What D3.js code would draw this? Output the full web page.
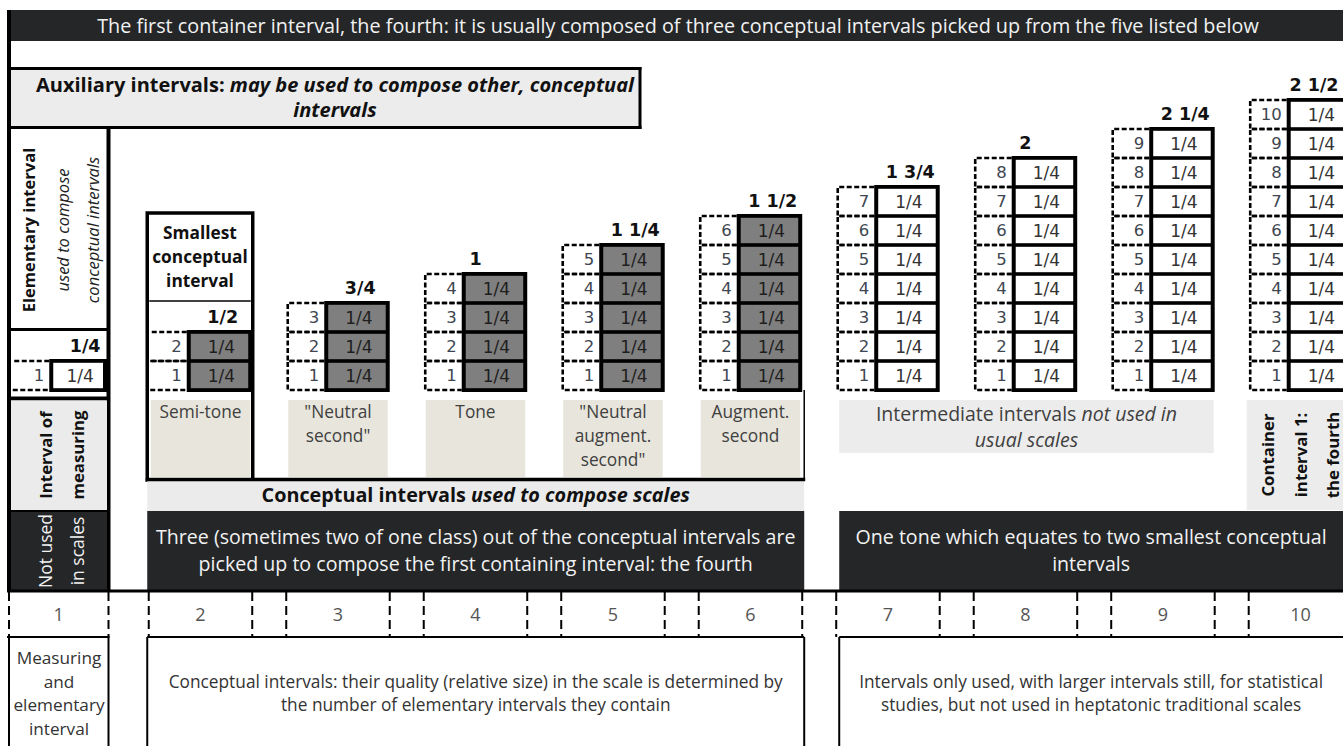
<!DOCTYPE html>
<html><head><meta charset="utf-8">
<script src="https://cdn.jsdelivr.net/npm/d3@7"></script>
<style>
html,body{margin:0;padding:0;background:#fff;}
svg{display:block;}
</style></head>
<body>
<svg id="chart" width="1343" height="746"></svg>
<script>
// ---------------- data ----------------
const columns = [1,2,3,4,5,6,7,8,9,10];
const cellCounts = [1,2,3,4,5,6,7,8,9,10];
const totalLabels = ["1/4","1/2","3/4","1","1 1/4","1 1/2","1 3/4","2","2 1/4","2 1/2"];
const unitLabel = "1/4";
const groups = ["elementary","conceptual","conceptual","conceptual","conceptual","conceptual","intermediate","intermediate","intermediate","container"];
const intervalNames = [[], ["Semi-tone"], ["\"Neutral","second\""], ["Tone"], ["\"Neutral","augment.","second\""], ["Augment.","second"], [], [], [], []];
const titleText = "The first container interval, the fourth: it is usually composed of three conceptual intervals picked up from the five listed below";
const auxLines = [[{t:"Auxiliary intervals: ",b:1},{t:"may be used to compose other, conceptual",b:1,i:1}],[{t:"intervals",b:1,i:1}]];
const conceptualBarText = [{t:"Conceptual intervals ",b:1},{t:"used to compose scales",b:1,i:1}];
const darkText1 = ["Three (sometimes two of one class) out of the conceptual intervals are","picked up to compose the first containing interval: the fourth"];
const darkText2 = ["One tone which equates to two smallest conceptual","intervals"];
const intermediateText = [[{t:"Intermediate intervals "},{t:"not used in",i:1}],[{t:"usual scales",i:1}]];
const containerText = ["Container","interval 1:","the fourth"];
const smallestText = ["Smallest","conceptual","interval"];
const bottomText1 = ["Measuring","and","elementary","interval"];
const bottomText2 = ["Conceptual intervals: their quality (relative size) in the scale is determined by","the number of elementary intervals they contain"];
const bottomText3 = ["Intervals only used, with larger intervals still, for statistical","studies, but not used in heptatonic traditional scales"];

// ---------------- style ----------------
const DARK = "#242628", LIGHT = "#ececec", BEIGE = "#e8e6dc", CELLGRAY = "#7f7f7f";
const TXT = "#404040", NUMC = "#3e4651";
const SANS = "'Open Sans', 'Noto Sans', sans-serif";
const NUMF = "'DejaVu Sans', Verdana, sans-serif";

const svg = d3.select("#chart");
const W = 1343, H = 746;

// scales
const x = d3.scaleBand().domain(columns).range([11.25, 1352.2]).paddingInner(0.2473).paddingOuter(0);
const bw = x.bandwidth();
const y = d3.scaleLinear().domain([0, 10]).range([390, 100]);
const LEFT_R = 108.5;
const bandL = c => x(c);
const bandR = c => c === 1 ? LEFT_R - 1.5 : x(c) + bw;

function line(x1,y1,x2,y2,w,dash,col){
  const l = svg.append("line").attr("x1",x1).attr("y1",y1).attr("x2",x2).attr("y2",y2)
    .attr("stroke",col||"#000").attr("stroke-width",w);
  if (dash) l.attr("stroke-dasharray",dash);
  return l;
}
function rect(x0,y0,w,h,fill){
  return svg.append("rect").attr("x",x0).attr("y",y0).attr("width",w).attr("height",h).attr("fill",fill);
}
function richText(cx, y0, lh, lines, size, color, opts){
  opts = opts||{};
  const t = svg.append("text").attr("x",cx).attr("y",y0).attr("text-anchor","middle")
    .attr("font-family",SANS).attr("font-size",size).attr("fill",color);
  lines.forEach((segs,li)=>{
    if (typeof segs === "string") segs = [{t:segs}];
    segs.forEach((s,si)=>{
      const ts = t.append("tspan").text(s.t);
      if (si===0){ ts.attr("x",cx).attr("y", y0 + li*lh); }
      if (s.b || opts.bold) ts.attr("font-weight","bold");
      if (s.i) ts.attr("font-style","italic");
    });
  });
  return t;
}
function rotText(cx, cy, str, size, color, weight, style){
  svg.append("text").attr("transform",`translate(${cx},${cy}) rotate(-90)`)
    .attr("text-anchor","middle").attr("dominant-baseline","central")
    .attr("font-family",SANS).attr("font-size",size).attr("fill",color)
    .attr("font-weight",weight||"normal").attr("font-style",style||"normal").text(str);
}

// ---------------- structure ----------------
// title bar
rect(7,10,W-7,31,DARK);
richText(678, 32.5, 0, [titleText], 19.8, "#f2f2f2");

// auxiliary box
rect(11,70,629,57,LIGHT);
line(7,68.5,641.5,68.5,3);
line(640,67,640,129,3);
line(7,127.5,641.5,127.5,3);
richText(335, 92, 25, auxLines, 20, "#111");

// outer left frame
line(9,10,9,592,4);

// left column
line(LEFT_R,126,LEFT_R,592,4);
line(9,329.5,110,329.5,3);
line(9,398.5,110,398.5,4);
rect(11,400.5,96,110,"#ebebeb");
line(9,511,110,511,2);
rect(11,512,96,78,DARK);
rotText(28,230,"Elementary interval",16.6,"#111","bold");
rotText(62,230,"used to compose",16.5,"#222","normal","italic");
rotText(92,230,"conceptual intervals",16.5,"#222","normal","italic");
rotText(45,455,"Interval of",16.8,"#111","bold");
rotText(77,455,"measuring",16.8,"#111","bold");
rotText(45,551,"Not used",17.5,"#f2f2f2");
rotText(77,551,"in scales",17.5,"#f2f2f2");

// smallest conceptual interval box
const sL = bandL(2)-1.5, sR = bandR(2)+0.5;
svg.append("rect").attr("x",sL).attr("y",213).attr("width",sR-sL).attr("height",267)
  .attr("fill","#fff").attr("stroke","#000").attr("stroke-width",3.5);
line(sL+2,301,sR-2,301,1.5);
richText((sL+sR)/2, 239, 24, smallestText, 17.3, "#111", {bold:true});

// conceptual bar
const cR = bandR(6)+2;
rect(sL,480,cR-sL,31,"#ebebeb");
line(sL-1.5,479.5,cR+1,479.5,3.5);
line(cR,390,cR,480,1.5);
richText((sL+cR)/2, 502, 0, [conceptualBarText], 19.8, "#111");

// dark boxes
rect(sL,511,cR-sL,79,DARK);
richText((sL+cR)/2, 544, 27, darkText1, 19.6, "#f2f2f2");
const d2L = bandL(7)+3;
rect(d2L,511,W-d2L,79,DARK);
richText((d2L+W)/2, 544, 27, darkText2, 19.6, "#f2f2f2");

line(7,591,W,591,3);

// interval name boxes (beige) for conceptual columns
columns.forEach((c,i)=>{
  if (groups[i] !== "conceptual") return;
  const l = bandL(c)+2, r = bandR(c)-2;
  rect(l,400,r-l,77,BEIGE);
  richText((l+r)/2, 418, 24, intervalNames[i], 17.3, TXT);
});

// intermediate box
const iL = bandL(7)+3, iR = bandR(9)-1;
rect(iL,400,iR-iL,53,"#ececec");
richText((iL+iR)/2, 421, 26, intermediateText, 19.5, TXT);

// container box
const ctL = bandL(10)-2;
rect(ctL,400,W-ctL,110,"#ececec");
containerText.forEach((s,k)=> rotText(ctL+21+k*32.5, 455, s, 16.8, "#111", "bold"));

// ---------------- stacks ----------------
columns.forEach((c,i)=>{
  const n = cellCounts[i];
  const x0 = bandL(c), xr = bandR(c);
  const sx = x0 + 38;
  const g = svg.append("g");
  const cells = d3.range(1, n+1);
  const framedLeft = c <= 2; // left side given by a solid frame line
  // dashed boxes
  cells.forEach(k=>{
    const yt = y(k), yb = y(k-1);
    const d = framedLeft
      ? `M${sx},${yt}H${x0+1.5}M${x0+1.5},${yb}H${sx}`
      : `M${sx},${yt}H${x0+1.5}V${yb}H${sx}`;
    g.append("path").attr("d",d)
      .attr("fill","none").attr("stroke","#000").attr("stroke-width",2.6).attr("stroke-dasharray","5,2.5");
    g.append("text").attr("x",x0+33).attr("y",(yt+yb)/2).attr("dy","0.36em")
      .attr("text-anchor","end").attr("font-family",NUMF).attr("font-size",16.5)
      .attr("fill",NUMC).text(k);
  });
  // solid box
  g.append("rect").attr("x",sx).attr("y",y(n)-2).attr("width",xr-sx).attr("height",y(0)-y(n)+4).attr("fill","#000");
  cells.forEach(k=>{
    const yt = y(k), yb = y(k-1);
    g.append("rect").attr("x",sx+4).attr("y",yt+1.8).attr("width",xr-sx-8).attr("height",yb-yt-3.6)
      .attr("fill", groups[i]==="conceptual" ? CELLGRAY : "#fff");
    g.append("text").attr("x",(sx+xr)/2+2).attr("y",(yt+yb)/2).attr("dy","0.36em")
      .attr("text-anchor","middle").attr("font-family",NUMF).attr("font-size",17)
      .attr("fill", groups[i]==="conceptual" ? "#1e1e1e" : "#333").text(unitLabel);
  });
  // total label
  const lab = totalLabels[i];
  const isInt = !lab.includes("/");
  const lx = isInt ? x0 + bw/2 : Math.min(x0+74, (sx+xr)/2+7, W-29);
  g.append("text").attr("x", lx).attr("y", y(n)-9)
    .attr("text-anchor","middle").attr("font-family",NUMF).attr("font-weight","bold")
    .attr("font-size",17.5).attr("fill","#111").text(lab);
});

// ---------------- number row + bottom ----------------
columns.forEach((c,i)=>{
  const l = c===1 ? 9 : bandL(c), r = c===1 ? LEFT_R : bandR(c);
  line(l,592,l,637,2,"9,5");
  line(r,592,r,637,2,"9,5");
  svg.append("text").attr("x",(l+r)/2).attr("y",620.5).attr("text-anchor","middle")
    .attr("font-family",SANS).attr("font-size",18).attr("fill","#555").text(c);
});
line(7,637,LEFT_R+1,637,2);
line(sL,637,cR,637,2);
line(d2L,637,W,637,2);
[9, LEFT_R, sL, cR, d2L].forEach(xx=> line(xx,637,xx,H,2));

richText(59, 664, 23.5, bottomText1, 17.2, "#333");
richText((sL+cR)/2, 688, 23, bottomText2, 17.3, "#333");
richText((d2L+W)/2, 688, 23, bottomText3, 17.3, "#333");
</script>
</body></html>
